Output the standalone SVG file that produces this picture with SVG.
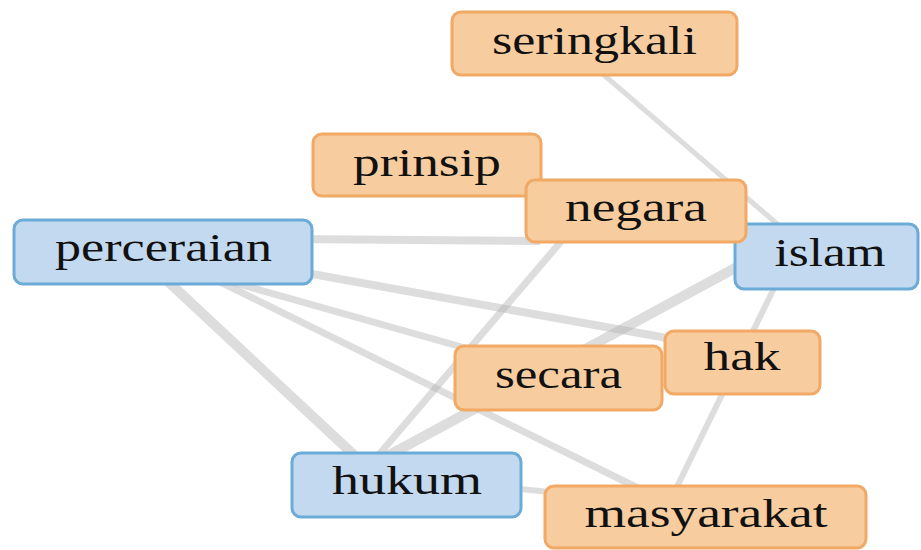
<svg xmlns="http://www.w3.org/2000/svg" width="921" height="550" viewBox="0 0 921 550">
<style>
.e{stroke:#b4b4b4;stroke-opacity:0.45;fill:none;stroke-linecap:butt}
.o{fill:#f7cd9f;stroke:#f2a965;stroke-width:3}
.b{fill:#c3d9ef;stroke:#6aabd7;stroke-width:3}
text{font-family:"Liberation Serif","Times New Roman",serif;font-size:40px;fill:#111;text-anchor:middle}
</style>
<rect width="921" height="550" fill="#fff"/>
<g id="edges">
<line class="e" x1="590" y1="63" x2="790" y2="235" stroke-width="5"/>
<line class="e" x1="290" y1="239" x2="540" y2="241" stroke-width="8"/>
<line class="e" x1="290" y1="270" x2="700" y2="344" stroke-width="8"/>
<line class="e" x1="200" y1="273" x2="490" y2="355" stroke-width="7"/>
<line class="e" x1="200" y1="272" x2="640" y2="489" stroke-width="7"/>
<line class="e" x1="160" y1="274" x2="370" y2="470" stroke-width="10"/>
<line class="e" x1="370" y1="465" x2="570" y2="231" stroke-width="7"/>
<line class="e" x1="380" y1="460" x2="750" y2="260" stroke-width="10"/>
<line class="e" x1="510" y1="488" x2="560" y2="493" stroke-width="6"/>
<line class="e" x1="778" y1="280" x2="672" y2="497" stroke-width="6"/>
</g>
<g id="seringkali"><rect class="o" x="452" y="12" width="285" height="63" rx="9"/><text x="594.5" y="54" textLength="205" lengthAdjust="spacingAndGlyphs">seringkali</text></g>
<g id="prinsip"><rect class="o" x="313" y="134" width="228" height="62" rx="9"/><text x="427" y="176" textLength="148" lengthAdjust="spacingAndGlyphs">prinsip</text></g>
<g id="islam"><rect class="b" x="735" y="224" width="183" height="65" rx="9"/><text x="830" y="266" textLength="111" lengthAdjust="spacingAndGlyphs">islam</text></g>
<g id="negara"><rect class="o" x="526" y="180" width="220" height="62" rx="9"/><text x="636" y="221" textLength="142" lengthAdjust="spacingAndGlyphs">negara</text></g>
<g id="perceraian"><rect class="b" x="14" y="220" width="298" height="64" rx="9"/><text x="163.5" y="261" textLength="217" lengthAdjust="spacingAndGlyphs">perceraian</text></g>
<g id="secara"><rect class="o" x="455" y="346" width="207" height="64" rx="9"/><text x="558.5" y="388" textLength="127" lengthAdjust="spacingAndGlyphs">secara</text></g>
<g id="hak"><rect class="o" x="665" y="331" width="155" height="63" rx="9"/><text x="742" y="370" textLength="77" lengthAdjust="spacingAndGlyphs">hak</text></g>
<g id="hukum"><rect class="b" x="292" y="453" width="229" height="64" rx="9"/><text x="407" y="494" textLength="150" lengthAdjust="spacingAndGlyphs">hukum</text></g>
<g id="masyarakat"><rect class="o" x="545" y="486" width="321" height="62" rx="9"/><text x="706" y="527" textLength="243" lengthAdjust="spacingAndGlyphs">masyarakat</text></g>
</svg>
